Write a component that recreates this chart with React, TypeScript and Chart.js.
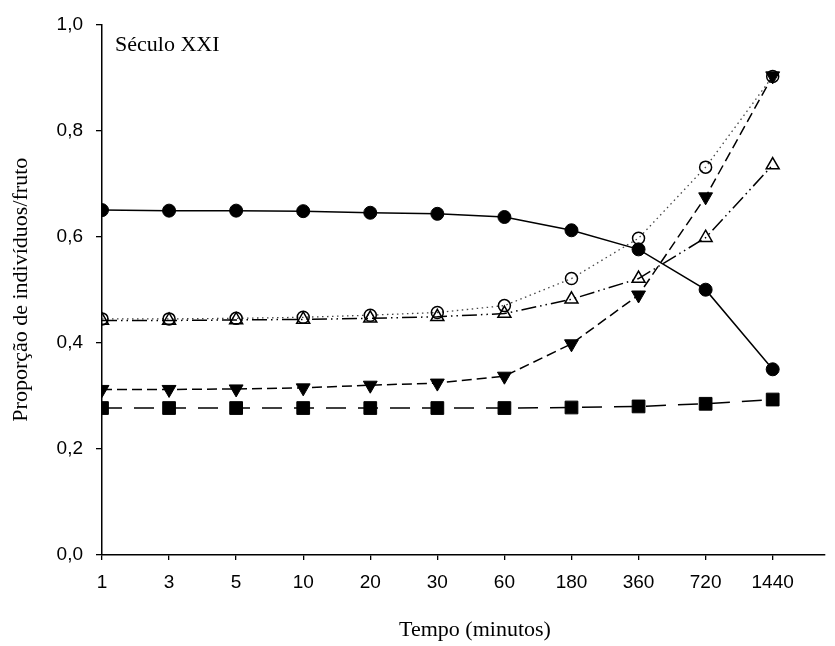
import React, { useEffect, useRef } from "react";
import { Chart, registerables } from "chart.js";

Chart.register(...registerables);

const categories = ["1", "3", "5", "10", "20", "30", "60", "180", "360", "720", "1440"];
const filledCircle = [0.650, 0.649, 0.649, 0.648, 0.645, 0.643, 0.637, 0.612, 0.576, 0.500, 0.350];
const openCircle = [0.445, 0.445, 0.446, 0.448, 0.452, 0.457, 0.470, 0.521, 0.597, 0.731, 0.902];
const openTriangle = [0.442, 0.442, 0.443, 0.444, 0.446, 0.449, 0.455, 0.482, 0.521, 0.598, 0.735];
const filledTriangle = [0.312, 0.312, 0.313, 0.315, 0.320, 0.324, 0.337, 0.398, 0.490, 0.675, 0.903];
const squares = [0.277, 0.277, 0.277, 0.277, 0.277, 0.277, 0.277, 0.278, 0.280, 0.285, 0.293];
const yTicks = [0, 0.2, 0.4, 0.6, 0.8, 1.0];

const xTitle = "Tempo (minutos)";
const yTitle = "Proporção de indivíduos/fruto";
const panelLabel = "Século XXI";

const toPoints = (vals: number[]) => vals.map((v, i) => ({ x: i, y: v }));

const labelPlugin = {
  id: "panelLabel",
  afterDraw(chart: any) {
    const { ctx, chartArea } = chart;
    ctx.save();
    ctx.fillStyle = "#000";
    ctx.font = "22px 'Liberation Serif', 'Times New Roman', serif";
    ctx.textAlign = "left";
    ctx.textBaseline = "middle";
    ctx.fillText(panelLabel, chartArea.left + 13, chartArea.top + 21);
    ctx.textAlign = "center";
    ctx.fillText(xTitle, chartArea.left + 373, chartArea.bottom + 75);
    ctx.restore();
  },
};

export default function App() {
  const canvasRef = useRef<HTMLCanvasElement | null>(null);

  useEffect(() => {
    if (!canvasRef.current) return;
    const base = {
      borderColor: "#000",
      pointBorderColor: "#000",
      showLine: true,
      tension: 0,
      fill: false,
      borderCapStyle: "butt" as const,
    };
    const chart = new Chart(canvasRef.current, {
      type: "scatter",
      data: {
        datasets: [
          {
            ...base,
            label: "squares",
            data: toPoints(squares),
            borderWidth: 1.5,
            borderDash: [20, 12],
            pointStyle: "rect",
            pointRadius: 9,
            pointBackgroundColor: "#000",
            pointBorderWidth: 1,
          },
          {
            ...base,
            label: "filledTriangle",
            data: toPoints(filledTriangle),
            borderWidth: 1.5,
            borderDash: [10, 5],
            pointStyle: "triangle",
            pointRotation: 180,
            pointRadius: 8,
            pointBackgroundColor: "#000",
            pointBorderWidth: 1,
          },
          {
            ...base,
            label: "openTriangle",
            data: toPoints(openTriangle),
            borderWidth: 1.5,
            borderDash: [15, 4, 1.5, 4, 1.5, 4],
            pointStyle: "triangle",
            pointRadius: 7.5,
            pointBackgroundColor: "rgba(0,0,0,0)",
            pointBorderWidth: 1.5,
          },
          {
            ...base,
            label: "openCircle",
            data: toPoints(openCircle),
            borderWidth: 1.3,
            borderColor: "#444",
            borderDash: [1.5, 3.5],
            pointStyle: "circle",
            pointRadius: 6,
            pointBackgroundColor: "rgba(0,0,0,0)",
            pointBorderWidth: 1.5,
          },
          {
            ...base,
            label: "filledCircle",
            data: toPoints(filledCircle),
            borderWidth: 1.5,
            pointStyle: "circle",
            pointRadius: 6.5,
            pointBackgroundColor: "#000",
            pointBorderWidth: 1,
          },
        ],
      },
      options: {
        animation: false,
        responsive: true,
        maintainAspectRatio: false,
        layout: { padding: { left: 0, top: 20, right: 5, bottom: 0 } },
        plugins: {
          legend: { display: false },
          tooltip: { enabled: false },
        },
        scales: {
          x: {
            type: "linear",
            min: 0,
            max: 10.78,
            afterBuildTicks: (scale: any) => {
              scale.ticks = categories.map((_, i) => ({ value: i }));
            },
            afterFit: (scale: any) => {
              scale.height = 91;
            },
            grid: {
              display: true,
              drawOnChartArea: false,
              drawTicks: true,
              tickLength: 5,
              color: "#000",
              lineWidth: 1.3,
            },
            border: { display: true, color: "#000", width: 1.5 },
            ticks: {
              color: "#000",
              font: { family: "'Liberation Sans', Arial, sans-serif", size: 19 },
              padding: 11,
              maxRotation: 0,
              autoSkip: false,
              callback: (v: any) => categories[v as number] ?? "",
            },
            title: { display: false },
          },
          y: {
            type: "linear",
            min: 0,
            max: 1,
            afterBuildTicks: (scale: any) => {
              scale.ticks = yTicks.map((v) => ({ value: v }));
            },
            afterFit: (scale: any) => {
              scale.width = 102;
            },
            grid: {
              display: true,
              drawOnChartArea: false,
              drawTicks: true,
              tickLength: 6,
              color: "#000",
              lineWidth: 1.3,
            },
            border: { display: true, color: "#000", width: 1.5 },
            ticks: {
              color: "#000",
              font: { family: "'Liberation Sans', Arial, sans-serif", size: 19 },
              padding: 13,
              callback: (v: any) => Number(v).toFixed(1).replace(".", ","),
            },
            title: {
              display: true,
              text: yTitle,
              color: "#000",
              font: { family: "'Liberation Serif', 'Times New Roman', serif", size: 22 },
              padding: { top: 8, bottom: 0 },
            },
          },
        },
      },
      plugins: [labelPlugin],
    });
    return () => chart.destroy();
  }, []);

  return (
    <div style={{ position: "fixed", left: 0, top: 0, width: 835, height: 646, background: "#fff" }}>
      <canvas ref={canvasRef} />
    </div>
  );
}
